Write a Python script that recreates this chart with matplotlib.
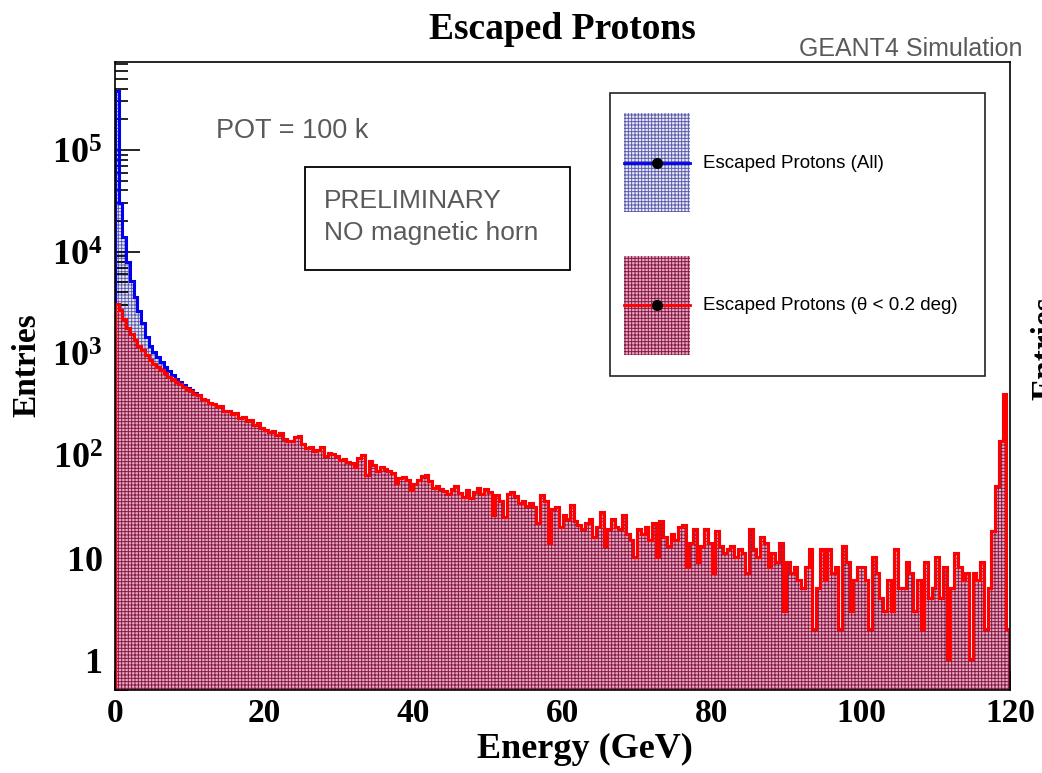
#!/usr/bin/env python3
"""Escaped protons energy spectrum (GEANT4), log-scale ROOT-style histogram."""

import numpy as np
import matplotlib
matplotlib.use("Agg")
import matplotlib.pyplot as plt
from matplotlib.patches import Rectangle
from matplotlib.lines import Line2D
from matplotlib.ticker import FixedLocator, MultipleLocator, LogLocator, NullFormatter

# ---- data (entries per 0.5 GeV bin, 0-120 GeV) ----
E_MIN, E_MAX, BIN_WIDTH = 0.0, 120.0, 0.5

# theta < 0.2 deg
red_counts = [
    3100, 2700, 2200, 1800, 1550, 1350, 1200, 1080, 960, 870, 800, 740, 690, 640, 590, 560, 530, 500, 470, 450,   # 0-10
    430, 405, 392, 360, 352, 330, 322, 300, 308, 276, 272, 258, 262, 236, 240, 218, 224, 200, 210, 188,           # 10-20
    180, 172, 176, 158, 165, 146, 140, 138, 152, 156, 130, 118, 120, 110, 114, 121, 100, 106, 104, 100,           # 20-30
    90, 92, 86, 84, 78, 95, 102, 64, 88, 80, 71, 77, 73, 70, 68, 54, 60, 62, 57, 46,                             # 30-40
    52, 58, 63, 65, 56, 48, 50, 47, 45, 42, 47, 50, 43, 39, 46, 38, 44, 48, 42, 47,                              # 40-50
    44, 26, 41, 36, 25, 42, 44, 40, 34, 36, 32, 34, 31, 22, 41, 36, 14, 30, 31, 20,                              # 50-60
    26, 24, 33, 23, 21, 19, 22, 24, 16, 20, 28, 13, 19, 24, 20, 19, 26, 17, 15, 10,                              # 60-70
    19, 17, 20, 15, 22, 10, 23, 16, 13, 17, 15, 20, 21, 8, 14, 19, 9, 13, 19, 14,                                # 70-80
    7, 18, 13, 11, 12, 13, 10, 12, 11, 7, 19, 12, 10, 16, 14, 8, 11, 9, 14, 3,                                   # 80-90
    9, 7, 8, 6, 5, 8, 12, 2, 5, 12, 6, 12, 7, 8, 2, 13, 9, 3, 6, 8,                                              # 90-100
    8, 6, 2, 10, 7, 4, 3, 6, 3, 12, 5, 5, 9, 7, 3, 6, 2, 9, 4, 5,                                                # 100-110
    10, 4, 8, 1, 5, 11, 8, 6, 7, 1, 7, 6, 9, 2, 5, 18, 50, 140, 400, 2,                                          # 110-120
]

# all escaped protons: differs from the theta cut only in the first bins
blue_head = [380000, 30000, 14000, 8000, 5200, 3600, 2600, 2000, 1450, 1200,
             1030, 920, 820, 740, 680, 620, 570, 530, 490, 465, 440, 415, 395]
blue_counts = blue_head + red_counts[len(blue_head):]

y_ticks = [1, 10, 1e2, 1e3, 1e4, 1e5]
y_ticklabels = [r"$\mathbf{1}$", r"$\mathbf{10}$", r"$\mathbf{10^{2}}$",
                r"$\mathbf{10^{3}}$", r"$\mathbf{10^{4}}$", r"$\mathbf{10^{5}}$"]
x_ticks = [0, 20, 40, 60, 80, 100, 120]

SERIF = "Liberation Serif"
SANS = "Liberation Sans"
GRAY = "#5a5a5a"
RED_FACE, RED_HATCH = "#e6a6c0", "#821540"
BLUE_FACE, BLUE_HATCH = "#e8e8f4", "#5858ac"

plt.rcParams["mathtext.fontset"] = "custom"
plt.rcParams["mathtext.rm"] = SERIF + ":bold"
plt.rcParams["mathtext.bf"] = SERIF + ":bold"
plt.rcParams["mathtext.it"] = SERIF + ":bold:italic"
plt.rcParams["hatch.linewidth"] = 0.65

edges = np.arange(E_MIN, E_MAX + BIN_WIDTH / 2, BIN_WIDTH)
red = np.array(red_counts, dtype=float)
blue = np.array(blue_counts, dtype=float)
assert len(red) == len(edges) - 1 and len(blue) == len(red)

fig = plt.figure(figsize=(10.42, 7.73), dpi=100)
ax = fig.add_axes([0.1104, 0.1074, 0.8589, 0.8124])

base = 0.1
# blue: all
ax.stairs(blue, edges, baseline=base, fill=True, facecolor=BLUE_FACE,
          edgecolor=BLUE_HATCH, linewidth=0, hatch="+++++", zorder=1)
ax.stairs(blue, edges, baseline=base, fill=False, color="#0000ee", linewidth=2.2, zorder=2)
# red: theta cut
ax.stairs(red, edges, baseline=base, fill=True, facecolor=RED_FACE,
          edgecolor=RED_HATCH, linewidth=0, hatch="+++++", zorder=3)
ax.stairs(red, edges, baseline=base, fill=False, color="#ff0000", linewidth=2.2, zorder=4)

ax.set_yscale("log")
ax.set_xlim(E_MIN, E_MAX)
ax.set_ylim(0.5, 7.3e5)

ax.yaxis.set_major_locator(FixedLocator(y_ticks))
ax.set_yticklabels(y_ticklabels, fontsize=26)
ax.yaxis.set_minor_locator(LogLocator(base=10, subs=np.arange(2, 10), numticks=20))
ax.yaxis.set_minor_formatter(NullFormatter())
ax.set_xticks(x_ticks)
ax.set_xticklabels([str(t) for t in x_ticks], fontsize=24, fontfamily=SERIF, fontweight="bold")
ax.xaxis.set_minor_locator(MultipleLocator(5))

ax.tick_params(axis="both", which="both", direction="in", top=False, right=False,
               color="black", width=1.2, zorder=6)
ax.tick_params(axis="y", which="major", length=18, pad=9)
ax.tick_params(axis="y", which="minor", length=9)
ax.tick_params(axis="x", which="major", length=14, pad=6)
ax.tick_params(axis="x", which="minor", length=7)
for sp in ax.spines.values():
    sp.set_linewidth(1.2)
    sp.set_zorder(7)

# titles and labels
fig.text(0.54, 0.962, "Escaped Protons", ha="center", va="center",
         fontsize=27, fontfamily=SERIF, fontweight="bold")
fig.text(0.561, 0.030, "Energy (GeV)", ha="center", va="center",
         fontsize=26, fontfamily=SERIF, fontweight="bold")
fig.text(0.026, 0.528, "Entries", ha="center", va="center", rotation=90,
         fontsize=24, fontfamily=SERIF, fontweight="bold")
# neighbouring panel's axis title, cut by the image edge
fig.text(1.0035, 0.483, "Entries", ha="center", va="bottom", rotation=90,
         fontsize=24, fontfamily=SERIF, fontweight="bold")
fig.text(0.981, 0.937, "GEANT4 Simulation", ha="right", va="center",
         fontsize=18, fontfamily=SANS, color=GRAY)

# annotations inside the frame
fig.text(0.207, 0.831, "POT = 100 k", ha="left", va="center",
         fontsize=19.5, fontfamily=SANS, color=GRAY)
fig.add_artist(Rectangle((0.2927, 0.6507), 0.2543, 0.1332, transform=fig.transFigure,
                         facecolor="white", edgecolor="black", linewidth=1.3, zorder=8))
fig.text(0.311, 0.74, "PRELIMINARY", ha="left", va="center",
         fontsize=19, fontfamily=SANS, color=GRAY, zorder=9)
fig.text(0.311, 0.698, "NO magnetic horn", ha="left", va="center",
         fontsize=19, fontfamily=SANS, color=GRAY, zorder=9)

# legend box
fig.add_artist(Rectangle((0.5854, 0.5136), 0.3599, 0.3661, transform=fig.transFigure,
                         facecolor="white", edgecolor="#222222", linewidth=1.2, zorder=8))
legend_rows = [
    (0.7257, 0.789, BLUE_FACE, BLUE_HATCH, "#0000ee", "Escaped Protons (All)"),
    (0.5408, 0.6054, RED_FACE, RED_HATCH, "#ff0000", "Escaped Protons (\u03b8 < 0.2 deg)"),
]
for y0, yl, face, hcol, lcol, label in legend_rows:
    fig.add_artist(Rectangle((0.5988, y0), 0.0633, 0.1281, transform=fig.transFigure,
                             facecolor=face, edgecolor=hcol, linewidth=0,
                             hatch="+++++", zorder=9))
    fig.add_artist(Line2D([0.5988, 0.6621], [yl, yl], transform=fig.transFigure,
                          color=lcol, linewidth=2.0, zorder=10))
    fig.add_artist(Line2D([0.6305], [yl], transform=fig.transFigure, marker="o",
                          markersize=7, color="black", zorder=11))
    fig.text(0.6747, yl, label, ha="left", va="center", fontsize=13.5,
             fontfamily=SANS, color="black", zorder=11)

fig.savefig("out.png", dpi=100)
